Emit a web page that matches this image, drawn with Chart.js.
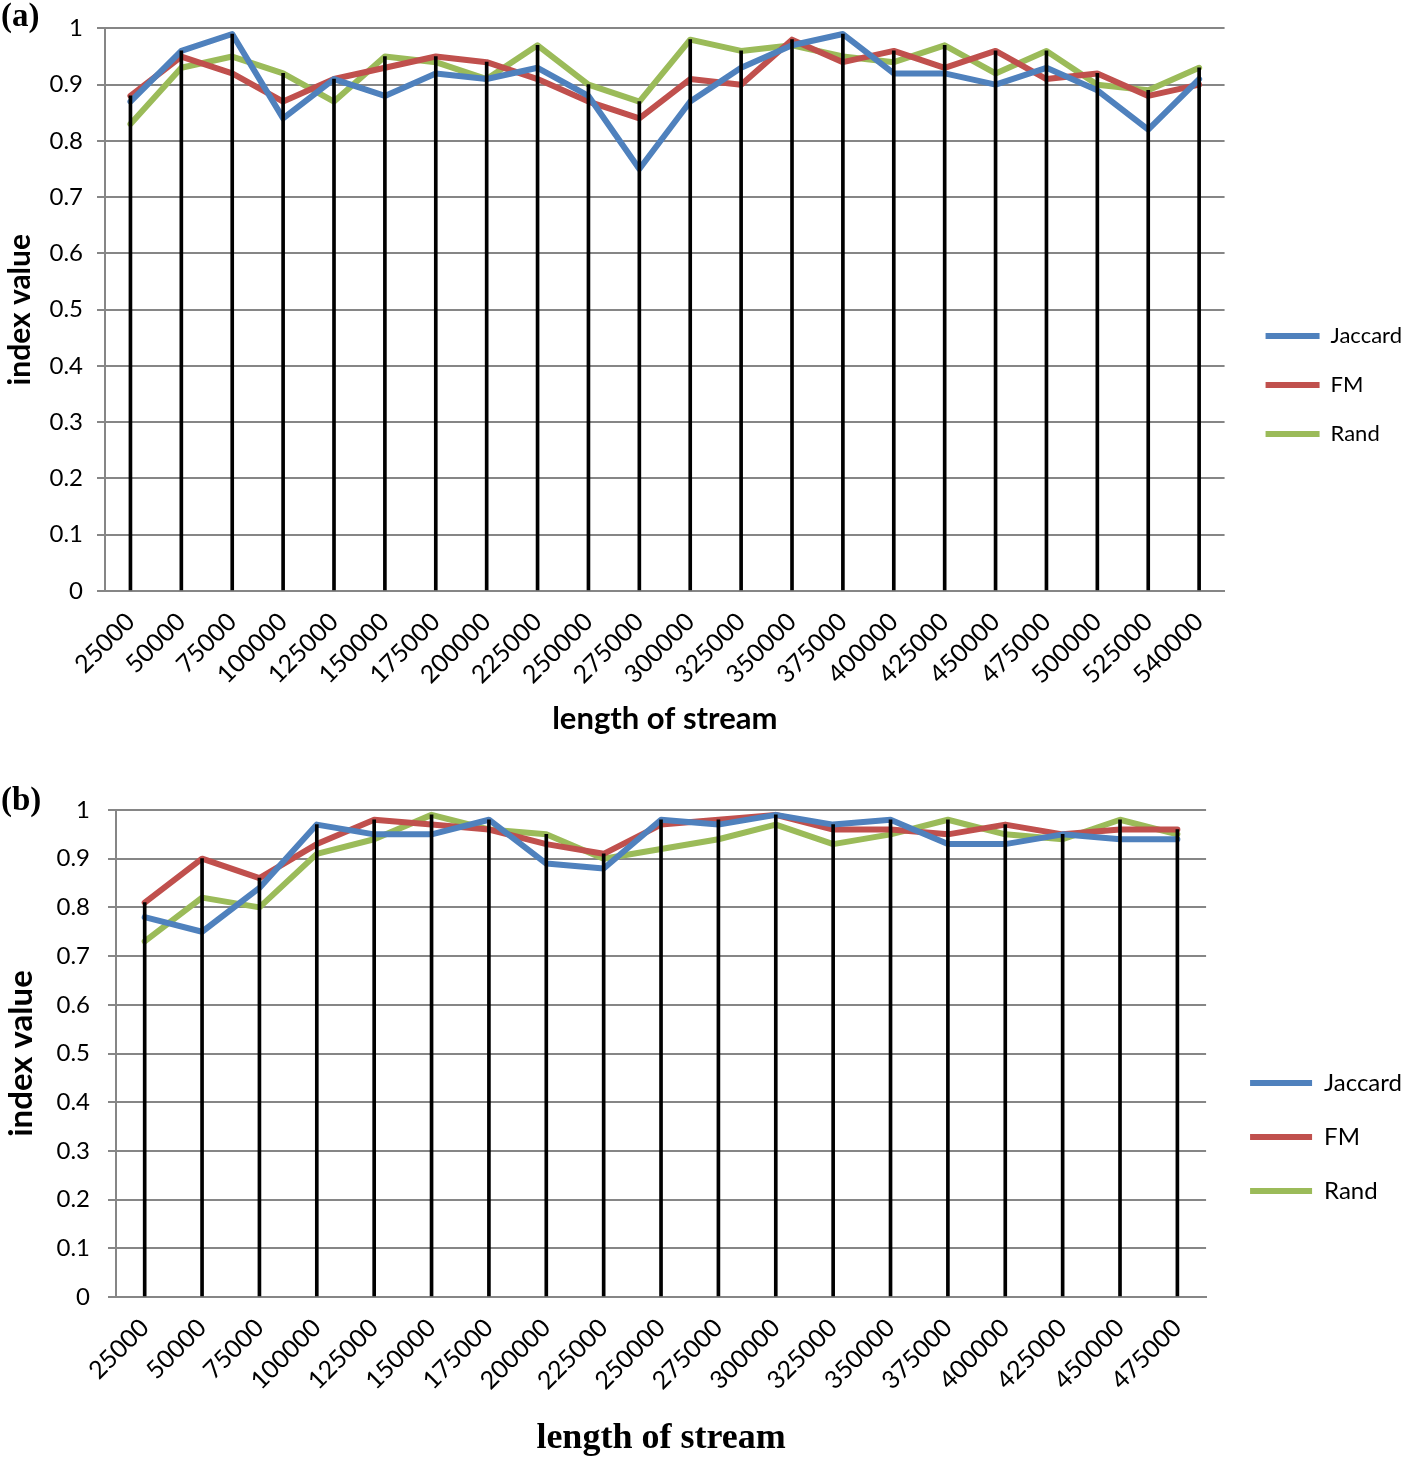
<!DOCTYPE html>
<html>
<head>
<meta charset="utf-8">
<script src="https://cdn.jsdelivr.net/npm/chart.js@4"></script>
<style>
html, body { margin:0; padding:0; background:#fff; width:1416px; height:1460px; overflow:hidden; }
.panel { position:absolute; left:0; }
.tag { position:absolute; left:1px; font: bold 33px "Liberation Serif", serif; color:#000; }
</style>
</head>
<body>
<div class="panel" style="top:0"><canvas id="chartA" width="1416" height="760"></canvas></div>
<div class="panel" style="top:760px"><canvas id="chartB" width="1416" height="720"></canvas></div>
<div class="tag" style="top:-3px">(a)</div>
<div class="tag" style="top:781px">(b)</div>
<script>
// panel (a)
var catsA = ['25000','50000','75000','100000','125000','150000','175000','200000','225000','250000','275000',
             '300000','325000','350000','375000','400000','425000','450000','475000','500000','525000','540000'];
var jaccardA = [0.87,0.96,0.99,0.84,0.91,0.88,0.92,0.91,0.93,0.88,0.75,0.87,0.93,0.97,0.99,0.92,0.92,0.90,0.93,0.89,0.82,0.91];
var fmA      = [0.88,0.95,0.92,0.87,0.91,0.93,0.95,0.94,0.91,0.87,0.84,0.91,0.90,0.98,0.94,0.96,0.93,0.96,0.91,0.92,0.88,0.90];
var randA    = [0.83,0.93,0.95,0.92,0.87,0.95,0.94,0.91,0.97,0.90,0.87,0.98,0.96,0.97,0.95,0.94,0.97,0.92,0.96,0.90,0.89,0.93];

// panel (b)
var catsB = ['25000','50000','75000','100000','125000','150000','175000','200000','225000','250000',
             '275000','300000','325000','350000','375000','400000','425000','450000','475000'];
var jaccardB = [0.78,0.75,0.84,0.97,0.95,0.95,0.98,0.89,0.88,0.98,0.97,0.99,0.97,0.98,0.93,0.93,0.95,0.94,0.94];
var fmB      = [0.81,0.90,0.86,0.93,0.98,0.97,0.96,0.93,0.91,0.97,0.98,0.99,0.96,0.96,0.95,0.97,0.95,0.96,0.96];
var randB    = [0.73,0.82,0.80,0.91,0.94,0.99,0.96,0.95,0.90,0.92,0.94,0.97,0.93,0.95,0.98,0.95,0.94,0.98,0.95];

var yTickLabels = ['0','0.1','0.2','0.3','0.4','0.5','0.6','0.7','0.8','0.9','1'];

var seriesNames = ['Jaccard', 'FM', 'Rand'];
var seriesColors = ['#4F81BD', '#C0504D', '#9BBB59'];

// drop line height = highest of the three series at each category
var dropLines = (a, b, c) => a.map((v, i) => Math.max(v, b[i], c[i]));

var lineSet = (i, data) => ({
    label: seriesNames[i],
    data: data,
    borderColor: seriesColors[i],
    backgroundColor: seriesColors[i],
    borderWidth: 6,
    borderCapStyle: 'round',
    borderJoinStyle: 'round',
    pointRadius: 0,
    tension: 0,
    order: 1
});

function makeChart(id, o) {
    return new Chart(id, {
        type: 'line',
        data: {
            labels: o.cats,
            datasets: [
                lineSet(0, o.jaccard),
                lineSet(1, o.fm),
                lineSet(2, o.rand),
                { type: 'bar', label: 'drop', data: dropLines(o.jaccard, o.fm, o.rand),
                  backgroundColor: '#000', barThickness: 3, order: 0 }
            ]
        },
        options: {
            responsive: false,
            animation: false,
            layout: { padding: { top: o.padTop, bottom: o.padBottom, left: 0, right: 4 } },
            plugins: {
                tooltip: { enabled: false },
                legend: {
                    position: 'right',
                    align: 'center',
                    labels: {
                        usePointStyle: true,
                        pointStyle: 'line',
                        pointStyleWidth: o.legendLine,
                        padding: o.legendPad,
                        color: '#000',
                        font: { family: 'Lato', size: o.legendFont },
                        filter: item => item.datasetIndex < 3
                    }
                }
            },
            scales: {
                x: {
                    offset: true,
                    grid: { display: false },
                    border: { color: '#868686', width: 2 },
                    ticks: { color: '#000', font: { family: 'Lato', size: o.xTickFont }, minRotation: 45, maxRotation: 45, padding: 8 },
                    title: { display: true, text: 'length of stream', color: '#000', font: o.xTitleFont, padding: { top: 0, bottom: o.xTitlePad } },
                    afterFit: s => { s.height = o.xAxisH; }
                },
                y: {
                    min: 0, max: 1,
                    grid: { color: '#868686', lineWidth: 2, tickLength: 8 },
                    border: { color: '#868686', width: 2 },
                    ticks: { stepSize: 0.1, color: '#000', font: { family: 'Lato', size: o.yTickFont }, padding: o.yTickPad,
                             callback: (v, i) => yTickLabels[i] },
                    title: { display: true, text: 'index value', color: '#000', font: { family: 'Lato', size: o.yTitleSize, weight: 'bold' }, padding: { top: 2, bottom: 0 } },
                    afterFit: s => { s.width = o.yAxisW; }
                },
                gap: {
                    position: 'right',
                    grid: { display: false },
                    border: { display: false },
                    ticks: { display: false },
                    afterFit: s => { s.width = o.legendGap; }
                }
            }
        }
    });
}

window.chartA = makeChart('chartA', {
    cats: catsA, jaccard: jaccardA, fm: fmA, rand: randA,
    padTop: 26, padBottom: 16, xAxisH: 153, xTitlePad: 6, yAxisW: 105, yTickPad: 14,
    xTickFont: 25, yTickFont: 24, yTitleSize: 30,
    xTitleFont: { family: 'Lato', size: 31, weight: 'bold' },
    legendLine: 54, legendPad: 27, legendFont: 22, legendGap: 14
});

window.chartB = makeChart('chartB', {
    cats: catsB, jaccard: jaccardB, fm: fmB, rand: randB,
    padTop: 50, padBottom: 16, xAxisH: 167, xTitlePad: 4, yAxisW: 116, yTickPad: 18,
    xTickFont: 25, yTickFont: 24, yTitleSize: 33,
    xTitleFont: { family: 'Liberation Serif', size: 36, weight: 'bold' },
    legendLine: 62, legendPad: 30, legendFont: 24, legendGap: 14
});
</script>
</body>
</html>
